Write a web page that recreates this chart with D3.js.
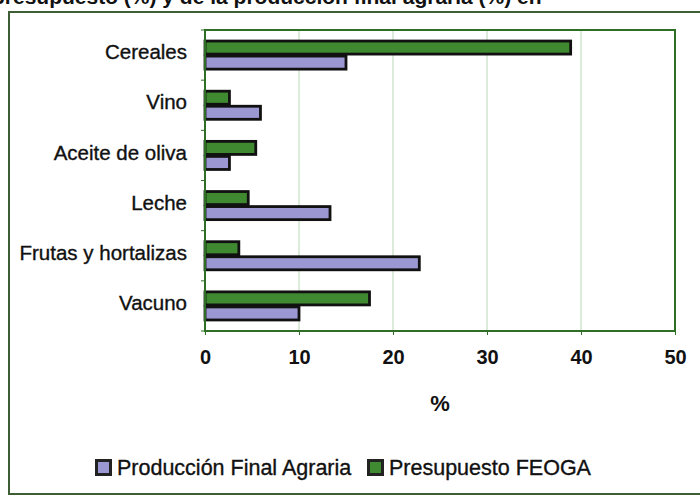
<!DOCTYPE html>
<html>
<head>
<meta charset="utf-8">
<script src="https://cdn.jsdelivr.net/npm/d3@7"></script>
<style>
  body { margin: 0; background: #fff; }
  svg { display: block; font-family: "Liberation Sans", Arial, sans-serif; }
</style>
</head>
<body>
<div id="chart"></div>
<script>
// chart data
var categories = ["Cereales", "Vino", "Aceite de oliva", "Leche", "Frutas y hortalizas", "Vacuno"];
var seriesNames = ["Presupuesto FEOGA", "Producción Final Agraria"];
var feoga = [38.9, 2.6, 5.4, 4.6, 3.6, 17.5];
var produccion = [15.0, 5.9, 2.6, 13.3, 22.8, 10.0];
var xTicks = [0, 10, 20, 30, 40, 50];
var legendOrder = ["Producción Final Agraria", "Presupuesto FEOGA"];

var width = 700,
    height = 497,
    margin = {top: 30, left: 205, bottom: 166, right: 25};

var colors = {
    "Presupuesto FEOGA": "#3f8a30",
    "Producción Final Agraria": "#9b97d2"
};

var svg = d3.select("#chart").append("svg")
    .attr("width", width)
    .attr("height", height);

// title line, cut by the top edge of the picture (as in the scan)
svg.append("text")
    .attr("x", -8)
    .attr("y", 4)
    .attr("font-size", 21)
    .attr("font-weight", "bold")
    .attr("fill", "#111")
    .text("presupuesto (%) y de la producción final agraria (%) en");

// outer frame
svg.append("rect")
    .attr("x", 9)
    .attr("y", 12)
    .attr("width", 720)
    .attr("height", 482)
    .attr("fill", "none")
    .attr("stroke", "#3e5e36")
    .attr("stroke-width", 2);

var x = d3.scaleLinear()
    .domain([0, 50])
    .range([margin.left, width - margin.right]);

var y = d3.scaleBand()
    .domain(categories)
    .range([margin.top, height - margin.bottom])
    .paddingInner(0.4)
    .paddingOuter(0.2);

var ySub = d3.scaleBand()
    .domain(seriesNames)
    .range([0, y.bandwidth()]);

var rows = categories.map(function(c, i) {
    return {cat: c, values: [
        {name: "Presupuesto FEOGA", v: feoga[i]},
        {name: "Producción Final Agraria", v: produccion[i]}
    ]};
});

// gridlines
svg.append("g")
    .selectAll("line")
    .data(xTicks.slice(1, -1))
    .enter().append("line")
    .attr("x1", function(d) { return x(d); })
    .attr("x2", function(d) { return x(d); })
    .attr("y1", margin.top)
    .attr("y2", height - margin.bottom)
    .attr("stroke", "#b9d8b4")
    .attr("stroke-width", 1);

// bars
var group = svg.append("g")
    .selectAll("g")
    .data(rows)
    .enter().append("g")
    .attr("transform", function(d) { return "translate(0," + y(d.cat) + ")"; });

group.selectAll("rect")
    .data(function(d) { return d.values; })
    .enter().append("rect")
    .attr("x", x(0))
    .attr("y", function(d) { return ySub(d.name) + 1; })
    .attr("width", function(d) { return x(d.v) - x(0); })
    .attr("height", ySub.bandwidth() - 2)
    .attr("fill", function(d) { return colors[d.name]; })
    .attr("stroke", "#111")
    .attr("stroke-width", 2.8);

// plot frame
svg.append("rect")
    .attr("x", margin.left)
    .attr("y", margin.top)
    .attr("width", width - margin.left - margin.right)
    .attr("height", height - margin.top - margin.bottom)
    .attr("fill", "none")
    .attr("stroke", "#2f6e25")
    .attr("stroke-width", 2);

// x axis
var xAxis = svg.append("g")
    .attr("transform", "translate(0," + (height - margin.bottom) + ")")
    .call(d3.axisBottom(x).tickValues(xTicks).tickSize(4).tickPadding(15));

xAxis.select(".domain").remove();
xAxis.selectAll(".tick line").attr("stroke", "#2f6e25");
xAxis.selectAll(".tick text")
    .attr("font-family", "'Liberation Sans', Arial, sans-serif")
    .attr("font-size", 20)
    .attr("font-weight", "bold")
    .attr("fill", "#111");

// y axis
var yAxis = svg.append("g")
    .attr("transform", "translate(" + margin.left + ",0)")
    .call(d3.axisLeft(y).tickSize(0).tickPadding(18));

yAxis.select(".domain").remove();
yAxis.selectAll(".tick text")
    .attr("font-family", "'Liberation Sans', Arial, sans-serif")
    .attr("font-size", 20.5)
    .attr("fill", "#111")
    .attr("stroke", "#111")
    .attr("stroke-width", 0.35)
    .attr("dy", "0.2em");

// small ticks at the category boundaries
var bounds = categories.map(function(c) { return y(c) - y.step() * y.paddingInner() / 2; });
bounds.push(height - margin.bottom);
svg.append("g")
    .selectAll("line")
    .data(bounds)
    .enter().append("line")
    .attr("x1", margin.left - 4)
    .attr("x2", margin.left)
    .attr("y1", function(d) { return d; })
    .attr("y2", function(d) { return d; })
    .attr("stroke", "#2f6e25");

// axis title
svg.append("text")
    .attr("x", (x(0) + x(50)) / 2)
    .attr("y", 411)
    .attr("text-anchor", "middle")
    .attr("font-size", 22)
    .attr("font-weight", "bold")
    .attr("fill", "#111")
    .text("%");

// legend
var legendX = [95, 367];
var legend = svg.append("g")
    .selectAll("g")
    .data(legendOrder)
    .enter().append("g")
    .attr("transform", function(d, i) { return "translate(" + legendX[i] + ",459)"; });

legend.append("rect")
    .attr("x", 1.5)
    .attr("y", 1.5)
    .attr("width", 14)
    .attr("height", 14)
    .attr("fill", function(d) { return colors[d]; })
    .attr("stroke", "#222")
    .attr("stroke-width", 3);

legend.append("text")
    .attr("x", 22)
    .attr("y", 16)
    .attr("font-size", 21.5)
    .attr("fill", "#111")
    .attr("stroke", "#111")
    .attr("stroke-width", 0.35)
    .text(function(d) { return d; });
</script>
</body>
</html>
